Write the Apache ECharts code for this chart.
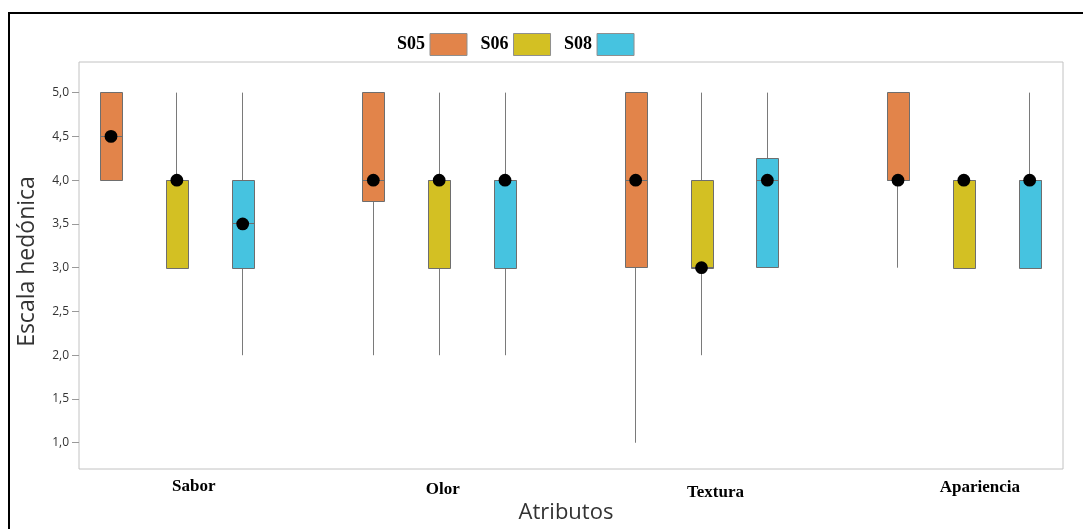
<!DOCTYPE html>
<html>
<head>
<meta charset="utf-8">
<script src="https://cdn.jsdelivr.net/npm/echarts@6/dist/echarts.min.js"></script>
<style>
  html, body { margin: 0; padding: 0; background: #fff; }
  #chart { width: 1083px; height: 529px; }
</style>
</head>
<body>
<div id="chart"></div>
<script>
// Attributes on the x axis
const categories = ['Sabor', 'Olor', 'Textura', 'Apariencia'];
const seriesNames = ['S05', 'S06', 'S08'];

// Five-number summaries per attribute: [min, Q1, median, Q3, max]
const S05 = [
  [4, 4, 4.5, 5, 5],
  [2, 3.75, 4, 5, 5],
  [1, 3, 4, 5, 5],
  [3, 4, 4, 5, 5]
];
const S06 = [
  [3, 3, 4, 4, 5],
  [2, 3, 4, 4, 5],
  [2, 3, 3, 4, 5],
  [3, 3, 4, 4, 4]
];
const S08 = [
  [2, 3, 3.5, 4, 5],
  [2, 3, 4, 4, 5],
  [3, 3, 4, 4.25, 5],
  [3, 3, 4, 4, 5]
];

// Hedonic scale tick labels
const yTicks = [1, 1.5, 2, 2.5, 3, 3.5, 4, 4.5, 5];

const colors = ['#E2844A', '#D3C023', '#46C3E0'];
const groupOffsets = [-0.251, 0, 0.251];
const BOX_W = 22;

function crisp(v) { return Math.round(v - 0.5) + 0.5; }

function makeRenderer(offset, color) {
  return function (params, api) {
    const x = api.value(0) + offset;
    const pMin = api.coord([x, api.value(1)]);
    const pQ1 = api.coord([x, api.value(2)]);
    const pMed = api.coord([x, api.value(3)]);
    const pQ3 = api.coord([x, api.value(4)]);
    const pMax = api.coord([x, api.value(5)]);
    const cx = crisp(pMed[0]);
    const left = Math.round(pMed[0] - BOX_W / 2) + 0.5;
    const children = [];
    const whisker = { stroke: '#7a7a7a', lineWidth: 1 };
    if (Math.abs(pMax[1] - pQ3[1]) > 0.5) {
      children.push({ type: 'line', shape: { x1: cx, y1: pMax[1], x2: cx, y2: pQ3[1] }, style: whisker });
    }
    if (Math.abs(pMin[1] - pQ1[1]) > 0.5) {
      children.push({ type: 'line', shape: { x1: cx, y1: pQ1[1], x2: cx, y2: pMin[1] }, style: whisker });
    }
    children.push({
      type: 'rect',
      shape: { x: left, y: crisp(pQ3[1]), width: BOX_W, height: Math.round(pQ1[1] - pQ3[1]) },
      style: { fill: color, stroke: '#6e6e6e', lineWidth: 1 }
    });
    children.push({
      type: 'line',
      shape: { x1: left, y1: crisp(pMed[1]), x2: left + BOX_W, y2: crisp(pMed[1]) },
      style: { stroke: '#6e6e6e', lineWidth: 1 }
    });
    children.push({
      type: 'circle',
      shape: { cx: pMed[0], cy: pMed[1], r: 6.4 },
      style: { fill: '#000' }
    });
    return { type: 'group', children: children };
  };
}

function toData(rows) {
  return rows.map(function (r, i) { return [i + 1].concat(r); });
}

const allData = [S05, S06, S08];

// Per-label nudges of the attribute names (style only)
const labelRich = {
  l0: { padding: [0, 0, 0, 34] },
  l1: { padding: [3, 0, 0, 7] },
  l2: { padding: [6, 0, 0, 28] },
  l3: { padding: [1, 0, 0, 32] }
};
Object.keys(labelRich).forEach(function (k) {
  Object.assign(labelRich[k], {
    fontFamily: 'Liberation Serif', fontWeight: 'bold', fontSize: 17, color: '#000'
  });
});

const chart = echarts.init(document.getElementById('chart'), null, { renderer: 'canvas' });

chart.setOption({
  animation: false,
  backgroundColor: '#fff',
  grid: {
    left: 79, right: 20, top: 62, bottom: 60,
    outerBoundsMode: 'none',
    containLabel: false,
    show: true, borderColor: '#c2c2c2', borderWidth: 1, backgroundColor: 'transparent'
  },
  legend: {
    left: 392, top: 28,
    align: 'right',
    itemWidth: 37, itemHeight: 22, itemGap: 13,
    icon: 'rect',
    itemStyle: { borderColor: '#8f8f8f', borderWidth: 1 },
    textStyle: { fontFamily: 'Liberation Serif', fontWeight: 'bold', fontSize: 18, color: '#000' },
    data: seriesNames
  },
  xAxis: {
    type: 'value',
    min: 0.627, max: 4.378,
    name: 'Atributos',
    nameLocation: 'middle',
    nameGap: 33,
    nameMoveOverlap: false,
    nameTextStyle: { fontFamily: 'Open Sans', fontSize: 22, color: '#333', padding: [0, 10, 0, 0] },
    axisLine: { show: false },
    axisTick: { show: false },
    splitLine: { show: false },
    axisLabel: {
      customValues: [1, 2, 3, 4],
      margin: 9,
      formatter: function (v) {
        const i = Math.round(v) - 1;
        return '{l' + i + '|' + categories[i] + '}';
      },
      rich: labelRich
    }
  },
  yAxis: {
    type: 'value',
    min: 0.7, max: 5.35,
    name: 'Escala hedónica',
    nameLocation: 'middle',
    nameGap: 40,
    nameMoveOverlap: false,
    nameTextStyle: { fontFamily: 'Open Sans', fontSize: 23, color: '#333', padding: [0, 0, 0, 8] },
    axisLine: { show: false },
    splitLine: { show: false },
    axisTick: {
      show: true, customValues: yTicks, length: 7,
      lineStyle: { color: '#9a9a9a', width: 1 }
    },
    axisLabel: {
      customValues: yTicks,
      margin: 10,
      fontFamily: 'Open Sans', fontSize: 12, color: '#333',
      formatter: function (v) { return v.toFixed(1).replace('.', ','); }
    }
  },
  graphic: [{
    type: 'polyline',
    shape: { points: [[9, 529], [9, 13], [1083, 13]] },
    style: { stroke: '#000', lineWidth: 2, fill: null },
    silent: true
  }],
  series: seriesNames.map(function (name, s) {
    return {
      name: name,
      type: 'custom',
      itemStyle: { color: colors[s] },
      renderItem: makeRenderer(groupOffsets[s], colors[s]),
      encode: { x: 0, y: [1, 2, 3, 4, 5] },
      data: toData(allData[s])
    };
  })
});
</script>
</body>
</html>
